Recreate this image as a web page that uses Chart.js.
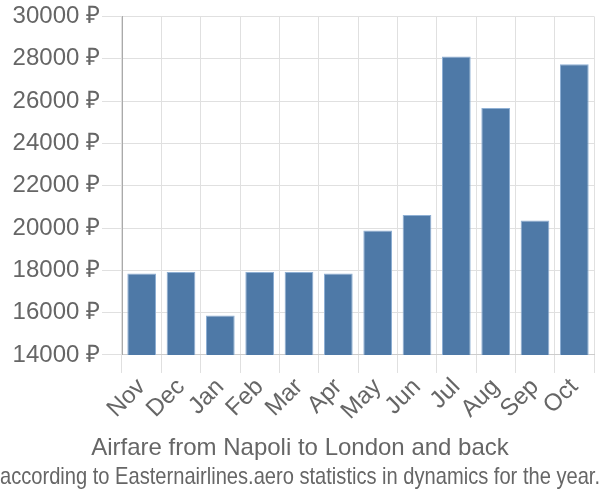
<!DOCTYPE html>
<html>
<head>
<meta charset="utf-8">
<script src="https://cdn.jsdelivr.net/npm/chart.js@4"></script>
<style>
html,body{margin:0;padding:0;background:#fff;}
#wrap{width:600px;height:500px;}
</style>
</head>
<body>
<div id="wrap"><canvas id="c"></canvas></div>
<script>
const months = ["Nov","Dec","Jan","Feb","Mar","Apr","May","Jun","Jul","Aug","Sep","Oct"];
const prices = [17850,17920,15870,17920,17920,17850,19880,20620,28100,25670,20350,27740];
const currency = "₽";
const titleText = "Airfare from Napoli to London and back";
const subtitleText = "according to Easternairlines.aero statistics in dynamics for the year.";

Chart.defaults.font.family = "'Liberation Sans', Arial, sans-serif";
Chart.defaults.color = "#666";

new Chart(document.getElementById("c"), {
  type: "bar",
  data: {
    labels: months,
    datasets: [{
      data: prices,
      yAxisID: "y",
      backgroundColor: "#4e79a7",
      borderColor: "#8fb0d4",
      borderWidth: 1,
      barPercentage: 0.73,
      categoryPercentage: 1.0
    }]
  },
  options: {
    responsive: true,
    maintainAspectRatio: false,
    animation: false,
    layout: { padding: { top: 1, right: 0, left: 0, bottom: 0 } },
    plugins: {
      legend: { display: false },
      tooltip: { enabled: false },
      title: {
        display: true, position: "bottom", text: titleText, weight: 1000,
        font: { size: 24, weight: "normal" }, color: "#666", padding: { top: 9, bottom: 0 }
      },
      subtitle: {
        display: true, position: "bottom", text: subtitleText, weight: 2000,
        font: { size: 24, weight: "normal" }, color: "#666", padding: { top: 0, bottom: 8 }
      }
    },
    scales: {
      x: {
        grid: { color: "#e0e0e0", tickLength: 18 },
        border: { color: "#ccc" },
        ticks: { font: { size: 24 }, color: "#666", maxRotation: 45, minRotation: 45, padding: 0, autoSkip: false }
      },
      y: {
        min: 14000, max: 30000,
        grid: { color: "#e0e0e0", tickLength: 20 },
        border: { color: "#aaa" },
        ticks: { stepSize: 2000, font: { size: 24 }, color: "#666", padding: 2,
          callback: v => v + " " + currency },
        afterFit: s => { s.width = 122; }
      },
      yRight: {
        position: "right",
        display: true,
        grid: { display: false, drawTicks: false },
        border: { display: false },
        ticks: { display: false },
        afterFit: s => { s.width = 6; }
      }
    }
  }
});
</script>
</body>
</html>
